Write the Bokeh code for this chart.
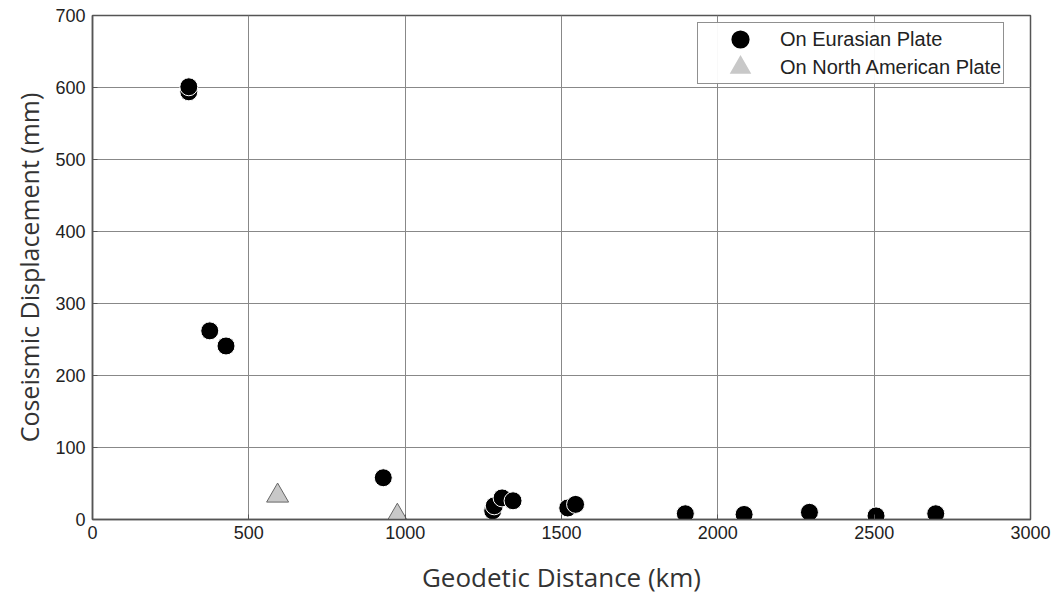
from bokeh.plotting import figure
from bokeh.embed import file_html
from bokeh.resources import INLINE
from bokeh.models import Legend, LegendItem, FixedTicker, Range1d

# Data
eur_dist = [308, 308, 375, 427, 930, 1280, 1285, 1310, 1345, 1520, 1545, 1896, 2084, 2293, 2506, 2697]
eur_disp = [594, 601, 262, 241, 58, 12, 19, 30, 26, 16, 21, 8, 7, 10, 5, 8]
na_dist = [592, 975]
na_disp = [33, 5]

x_ticks = [0, 500, 1000, 1500, 2000, 2500, 3000]
y_ticks = [0, 100, 200, 300, 400, 500, 600, 700]
series_labels = ["On Eurasian Plate", "On North American Plate"]

p = figure(width=1053, height=597, output_backend="svg", toolbar_location=None,
           x_range=Range1d(0, 3000), y_range=Range1d(0, 700),
           min_border_left=92, min_border_right=23, min_border_top=15, min_border_bottom=77)

p.outline_line_color = "#555555"
p.outline_line_width = 1.5
p.background_fill_color = "white"

p.xgrid.grid_line_color = "#888888"
p.ygrid.grid_line_color = "#888888"
p.xgrid.grid_line_width = 1
p.ygrid.grid_line_width = 1

p.xaxis.ticker = FixedTicker(ticks=x_ticks)
p.yaxis.ticker = FixedTicker(ticks=y_ticks)
p.xgrid.ticker = FixedTicker(ticks=x_ticks)
p.ygrid.ticker = FixedTicker(ticks=y_ticks)

for ax in (p.xaxis[0], p.yaxis[0]):
    ax.axis_line_color = "#555555"
    ax.axis_line_width = 1.5
    ax.major_tick_in = 5
    ax.major_tick_out = 0
    ax.minor_tick_line_color = None
    ax.major_tick_line_color = "#555555"
    ax.major_label_text_font = "Liberation Sans"
    ax.major_label_text_font_size = "18px"
    ax.major_label_text_color = "#222222"
    ax.axis_label_text_font = "Open Sans"
    ax.axis_label_text_font_style = "normal"
    ax.axis_label_text_color = "#333333"

p.xaxis.axis_label = "Geodetic Distance (km)"
p.yaxis.axis_label = "Coseismic Displacement (mm)"
p.xaxis.axis_label_text_font_size = "26px"
p.yaxis.axis_label_text_font_size = "25px"
p.xaxis.major_label_standoff = 6
p.xaxis.axis_label_standoff = 17
p.yaxis.major_label_standoff = 7
p.yaxis.axis_label_standoff = 6

r_eur = p.scatter(eur_dist, eur_disp, marker="circle", size=18,
                  fill_color="black", line_color="white", line_width=1)
r_na = p.scatter(na_dist, na_disp, marker="triangle", size=22,
                 fill_color="#c8c8c8", line_color="#666666", line_width=1)

# legend-only renderers (a single NaN point, never drawn) so legend markers can be larger
nan = float("nan")
lg_eur = p.scatter([nan], [nan], marker="circle", size=18, fill_color="black",
                   line_color="black", line_width=7)
lg_na = p.scatter([nan], [nan], marker="triangle", size=22, fill_color="#c8c8c8",
                  line_color="#c8c8c8", line_width=6, line_join="miter")

legend = Legend(items=[LegendItem(label=series_labels[0], renderers=[lg_eur]),
                       LegendItem(label=series_labels[1], renderers=[lg_na])],
                location=(605, 435))
legend.label_text_font = "Liberation Sans"
legend.label_text_font_size = "20px"
legend.label_text_color = "#222222"
legend.border_line_color = "#222222"
legend.border_line_width = 1.2
legend.margin = 0
legend.padding = 2
legend.spacing = 0
legend.glyph_width = 80
legend.glyph_height = 28
legend.label_height = 28
legend.label_standoff = 0
p.add_layout(legend)

open("out.html", "w").write(file_html(p, INLINE))
